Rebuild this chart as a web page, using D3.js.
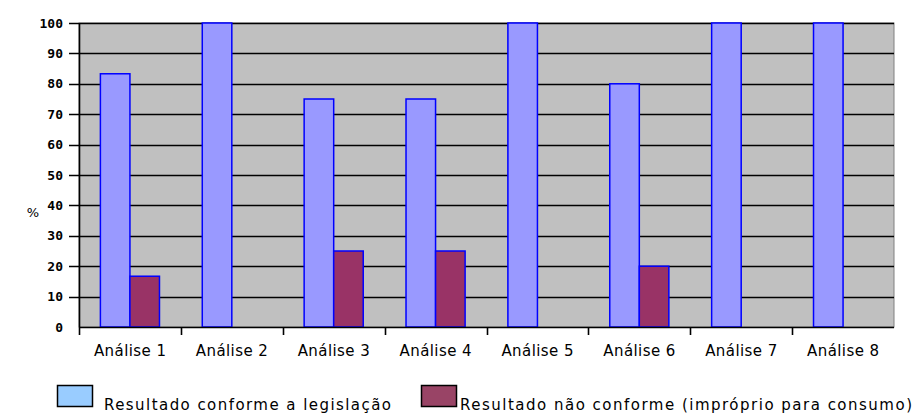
<!DOCTYPE html>
<html>
<head>
<meta charset="utf-8">
<script src="https://cdn.jsdelivr.net/npm/d3@7"></script>
<style>
  body { margin: 0; background: #ffffff; }
  svg { display: block; }
</style>
</head>
<body>
<div class="chart"></div>
<script>
// Data
var categories = ["Análise 1", "Análise 2", "Análise 3", "Análise 4", "Análise 5", "Análise 6", "Análise 7", "Análise 8"];
var conforme = [83.3, 100, 75, 75, 100, 80, 100, 100];
var naoConforme = [16.7, 0, 25, 25, 0, 20, 0, 0];
var seriesNames = ["Resultado conforme a legislação", "Resultado não conforme (impróprio para consumo)"];
var yTicks = [0, 10, 20, 30, 40, 50, 60, 70, 80, 90, 100];

var W = 917, H = 417;
var margin = {top: 23, right: 23, bottom: 90, left: 79},
width = W - margin.left - margin.right,
height = 327 - margin.top;

var svg = d3.select(".chart")
  .append("svg")
  .attr("width", W)
  .attr("height", H);

var g = svg.append("g")
  .attr("transform", "translate(" + margin.left + "," + margin.top + ")");

var y = d3.scaleLinear()
  .domain([0, 100])
  .range([height, 0]);

var x0 = d3.scaleBand()
  .domain(categories)
  .range([0, width]);

var x1 = d3.scaleBand()
  .domain([0, 1])
  .range([x0.bandwidth() * 0.21, x0.bandwidth() * 0.79]);

// Plot background
g.append("rect")
  .attr("width", width)
  .attr("height", height)
  .attr("fill", "#c0c0c0")
  .attr("stroke", "#808080")
  .attr("stroke-width", 1);

// Gridlines + left ticks
g.selectAll(".grid")
  .data(yTicks.filter(d => d > 0))
  .enter().append("line")
  .attr("x1", -10)
  .attr("x2", width)
  .attr("y1", d => Math.round(y(d)) + 0.5)
  .attr("y2", d => Math.round(y(d)) + 0.5)
  .attr("stroke", "#000")
  .attr("stroke-width", 1.6);

// Tick labels
g.selectAll(".ylab")
  .data(yTicks)
  .enter().append("text")
  .attr("x", -16)
  .attr("y", d => y(d))
  .attr("dy", "0.35em")
  .attr("text-anchor", "end")
  .style("font", "bold 13px 'DejaVu Sans Mono', monospace")
  .attr("fill", "#000")
  .text(d => d);

// % label
svg.append("text")
  .attr("x", 33)
  .attr("y", 217)
  .attr("text-anchor", "middle")
  .style("font", "13px 'DejaVu Sans'")
  .text("%");

var colors = ["#9999ff", "#993366"];

// Bars
var groups = g.selectAll(".bar")
  .data(categories)
  .enter().append("g")
  .attr("class", "bar")
  .attr("transform", d => "translate(" + x0(d) + ",0)");

groups.selectAll("rect")
  .data((d, i) => [conforme[i], naoConforme[i]].map((v, k) => ({k: k, v: v})))
  .enter().append("rect")
  .attr("x", d => x1(d.k))
  .attr("y", d => y(d.v))
  .attr("width", x1.bandwidth())
  .attr("height", d => y(0) - y(d.v))
  .attr("fill", d => colors[d.k])
  .attr("stroke", "#0000ff")
  .attr("stroke-width", 1.5);

// X axis line and ticks
g.append("line")
  .attr("x1", 0).attr("x2", width)
  .attr("y1", height + 0.5).attr("y2", height + 0.5)
  .attr("stroke", "#000").attr("stroke-width", 1.6);

g.append("line")
  .attr("x1", 0.5).attr("x2", 0.5)
  .attr("y1", 0).attr("y2", height + 8)
  .attr("stroke", "#000").attr("stroke-width", 1.6);

g.selectAll(".xtick")
  .data(categories.slice(1))
  .enter().append("line")
  .attr("x1", d => Math.round(x0(d)) + 0.5)
  .attr("x2", d => Math.round(x0(d)) + 0.5)
  .attr("y1", height)
  .attr("y2", height + 8)
  .attr("stroke", "#000")
  .attr("stroke-width", 1.6);

g.selectAll(".xlab")
  .data(categories)
  .enter().append("text")
  .attr("x", d => x0(d) + x0.bandwidth() / 2)
  .attr("y", height + 29)
  .attr("text-anchor", "middle")
  .style("font", "15px 'DejaVu Sans'")
  .attr("textLength", 72)
  .attr("lengthAdjust", "spacing")
  .text(d => d);

// Legend
var legendX = [57, 421];
var legendTextX = [104, 460];
var legendTextLen = [287, 452];
var legendFill = ["#99ccff", "#994466"];

var legend = svg.selectAll(".legend")
  .data(seriesNames)
  .enter().append("g")
  .attr("class", "legend");

legend.append("rect")
  .attr("x", (d, i) => legendX[i] + 0.5)
  .attr("y", 385.5)
  .attr("width", 35)
  .attr("height", 21)
  .attr("fill", (d, i) => legendFill[i])
  .attr("stroke", "#000")
  .attr("stroke-width", 1.5);

legend.append("text")
  .attr("x", (d, i) => legendTextX[i])
  .attr("y", 410)
  .style("font", "15px 'DejaVu Sans'")
  .attr("textLength", (d, i) => legendTextLen[i])
  .attr("lengthAdjust", "spacing")
  .text(d => d);
</script>
</body>
</html>
